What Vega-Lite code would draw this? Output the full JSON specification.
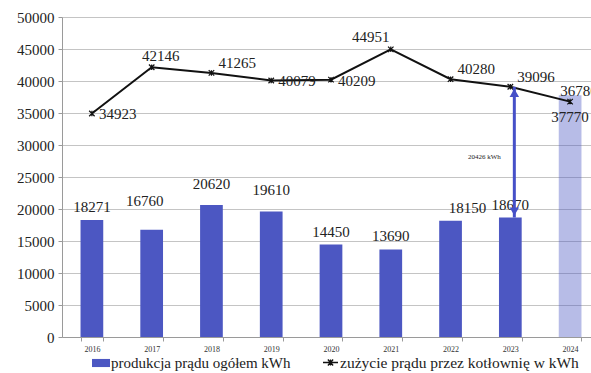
{
  "$schema": "https://vega.github.io/schema/vega-lite/v6.json",
  "autosize": {"type": "none"},
  "width": 528,
  "height": 320,
  "padding": {"left": 62, "top": 17, "right": 1, "bottom": 36},
  "background": "#ffffff",
  "datasets": {
    "energia": [
      {"rok": "2016", "produkcja": 18271, "zuzycie": 34923},
      {"rok": "2017", "produkcja": 16760, "zuzycie": 42146},
      {"rok": "2018", "produkcja": 20620, "zuzycie": 41265},
      {"rok": "2019", "produkcja": 19610, "zuzycie": 40079},
      {"rok": "2020", "produkcja": 14450, "zuzycie": 40209},
      {"rok": "2021", "produkcja": 13690, "zuzycie": 44951},
      {"rok": "2022", "produkcja": 18150, "zuzycie": 40280},
      {"rok": "2023", "produkcja": 18670, "zuzycie": 39096},
      {"rok": "2024", "produkcja": 37770, "zuzycie": 36780}
    ],
    "roznica": [
      {"rok": "2023", "od": 18670, "do": 39096, "opis": "20426 kWh", "poziom": 28100}
    ]
  },
  "data": {"name": "energia"},
  "encoding": {
    "x": {
      "field": "rok",
      "type": "ordinal",
      "scale": {"range": [0, 538], "paddingInner": 0.62, "paddingOuter": 0.31},
      "axis": {
        "title": null,
        "labelAngle": 0,
        "labelFont": "Liberation Serif, DejaVu Serif, serif",
        "labelFontSize": 8,
        "labelColor": "#333",
        "labelPadding": 4,
        "tickBand": "extent",
        "tickSize": 4,
        "tickColor": "#9a9a9a",
        "domainColor": "#9a9a9a",
        "grid": false
      }
    }
  },
  "layer": [
    {
      "mark": {"type": "bar"},
      "encoding": {
        "y": {
          "field": "produkcja",
          "type": "quantitative",
          "scale": {"domain": [0, 50000], "nice": false},
          "axis": {"title": null, "format": "d", "tickCount": 10}
        },
        "fill": {
          "datum": "produkcja prądu ogółem kWh",
          "type": "nominal",
          "scale": {"range": ["#4c57c2"]},
          "legend": {
            "title": null,
            "orient": "none",
            "legendX": 30,
            "legendY": 337,
            "symbolType": "M-1,-0.45H1V0.45H-1Z",
            "symbolSize": 324,
            "symbolStrokeWidth": 0,
            "labelFont": "Liberation Serif, DejaVu Serif, serif",
            "labelFontSize": 15,
            "labelColor": "#222",
            "labelLimit": 400,
            "labelOffset": 1
          }
        },
        "fillOpacity": {
          "condition": {"test": "datum.rok === '2024'", "value": 0.4},
          "value": 1
        }
      }
    },
    {
      "mark": {"type": "line", "color": "#111", "strokeWidth": 2},
      "encoding": {
        "y": {"field": "zuzycie", "type": "quantitative"},
        "stroke": {
          "datum": "zużycie prądu przez kotłownię w kWh",
          "type": "nominal",
          "scale": {"range": ["#111111"]},
          "legend": {
            "title": null,
            "orient": "none",
            "legendX": 260,
            "legendY": 337,
            "symbolType": "M-1,0H1M-0.35,-0.4L0.35,0.4M-0.35,0.4L0.35,-0.4M0,-0.4V0.4",
            "symbolSize": 225,
            "symbolStrokeWidth": 1.3,
            "labelFont": "Liberation Serif, DejaVu Serif, serif",
            "labelFontSize": 15.5,
            "labelColor": "#222",
            "labelLimit": 400,
            "labelOffset": 1
          }
        }
      }
    },
    {
      "mark": {
        "type": "point",
        "shape": "M-1,-1L1,1M-1,1L1,-1M0,-1V1",
        "filled": false,
        "stroke": "#111",
        "strokeWidth": 1.2,
        "size": 30,
        "opacity": 1
      },
      "encoding": {"y": {"field": "zuzycie", "type": "quantitative"}}
    },
    {
      "transform": [{"filter": {"field": "rok", "oneOf": ["2016", "2020", "2021", "2023"]}}],
      "mark": {"type": "text", "font": "Liberation Serif, DejaVu Serif, serif", "fontSize": 15, "color": "#222", "baseline": "middle", "dy": -13},
      "encoding": {"y": {"field": "produkcja", "type": "quantitative"}, "text": {"field": "produkcja", "type": "quantitative", "format": "d"}}
    },
    {
      "transform": [{"filter": {"field": "rok", "equal": "2017"}}],
      "mark": {"type": "text", "font": "Liberation Serif, DejaVu Serif, serif", "fontSize": 15, "color": "#222", "baseline": "middle", "dx": -7, "dy": -29},
      "encoding": {"y": {"field": "produkcja", "type": "quantitative"}, "text": {"field": "produkcja", "type": "quantitative", "format": "d"}}
    },
    {
      "transform": [{"filter": {"field": "rok", "oneOf": ["2018", "2019"]}}],
      "mark": {"type": "text", "font": "Liberation Serif, DejaVu Serif, serif", "fontSize": 15, "color": "#222", "baseline": "middle", "dy": -21},
      "encoding": {"y": {"field": "produkcja", "type": "quantitative"}, "text": {"field": "produkcja", "type": "quantitative", "format": "d"}}
    },
    {
      "transform": [{"filter": {"field": "rok", "equal": "2022"}}],
      "mark": {"type": "text", "font": "Liberation Serif, DejaVu Serif, serif", "fontSize": 15, "color": "#222", "baseline": "middle", "dx": 17, "dy": -13},
      "encoding": {"y": {"field": "produkcja", "type": "quantitative"}, "text": {"field": "produkcja", "type": "quantitative", "format": "d"}}
    },
    {
      "transform": [{"filter": {"field": "rok", "equal": "2024"}}],
      "mark": {"type": "text", "font": "Liberation Serif, DejaVu Serif, serif", "fontSize": 15, "color": "#222", "baseline": "middle", "dy": 22},
      "encoding": {"y": {"field": "produkcja", "type": "quantitative"}, "text": {"field": "produkcja", "type": "quantitative", "format": "d"}}
    },
    {
      "transform": [{"filter": {"field": "rok", "oneOf": ["2016", "2019", "2020"]}}],
      "mark": {"type": "text", "font": "Liberation Serif, DejaVu Serif, serif", "fontSize": 15, "color": "#222", "baseline": "middle", "align": "left", "dx": 7, "dy": 1},
      "encoding": {"y": {"field": "zuzycie", "type": "quantitative"}, "text": {"field": "zuzycie", "type": "quantitative", "format": "d"}}
    },
    {
      "transform": [{"filter": {"field": "rok", "oneOf": ["2018", "2022", "2023"]}}],
      "mark": {"type": "text", "font": "Liberation Serif, DejaVu Serif, serif", "fontSize": 15, "color": "#222", "baseline": "middle", "align": "left", "dx": 7, "dy": -10},
      "encoding": {"y": {"field": "zuzycie", "type": "quantitative"}, "text": {"field": "zuzycie", "type": "quantitative", "format": "d"}}
    },
    {
      "transform": [{"filter": {"field": "rok", "oneOf": ["2017", "2024"]}}],
      "mark": {"type": "text", "font": "Liberation Serif, DejaVu Serif, serif", "fontSize": 15, "color": "#222", "baseline": "middle", "align": "center", "dx": 9, "dy": -11},
      "encoding": {"y": {"field": "zuzycie", "type": "quantitative"}, "text": {"field": "zuzycie", "type": "quantitative", "format": "d"}}
    },
    {
      "transform": [{"filter": {"field": "rok", "equal": "2021"}}],
      "mark": {"type": "text", "font": "Liberation Serif, DejaVu Serif, serif", "fontSize": 15, "color": "#222", "baseline": "middle", "align": "center", "dx": -20, "dy": -12},
      "encoding": {"y": {"field": "zuzycie", "type": "quantitative"}, "text": {"field": "zuzycie", "type": "quantitative", "format": "d"}}
    },
    {
      "data": {"name": "roznica"},
      "mark": {"type": "rule", "color": "#4650c8", "strokeWidth": 3, "xOffset": 4},
      "encoding": {
        "y": {"field": "od", "type": "quantitative"},
        "y2": {"field": "do"}
      }
    },
    {
      "data": {"name": "roznica"},
      "mark": {"type": "point", "shape": "triangle-up", "filled": true, "color": "#4650c8", "size": 90, "opacity": 1, "xOffset": 4, "yOffset": 6},
      "encoding": {"y": {"field": "do", "type": "quantitative"}}
    },
    {
      "data": {"name": "roznica"},
      "mark": {"type": "point", "shape": "triangle-down", "filled": true, "color": "#4650c8", "size": 90, "opacity": 1, "xOffset": 4, "yOffset": -6},
      "encoding": {"y": {"field": "od", "type": "quantitative"}}
    },
    {
      "data": {"name": "roznica"},
      "mark": {"type": "text", "font": "Liberation Serif, DejaVu Serif, serif", "fontSize": 7, "color": "#222", "baseline": "middle", "align": "center", "dx": -26},
      "encoding": {
        "y": {"field": "poziom", "type": "quantitative"},
        "text": {"field": "opis", "type": "nominal"}
      }
    }
  ],
  "config": {
    "view": {"stroke": null},
    "axisY": {
      "title": null,
      "format": "d",
      "tickCount": 10,
      "labelOverlap": false,
      "labelFont": "Liberation Serif, DejaVu Serif, serif",
      "labelFontSize": 15,
      "labelColor": "#222",
      "labelPadding": 4,
      "tickSize": 4,
      "tickColor": "#9a9a9a",
      "domainColor": "#9a9a9a",
      "gridColor": "#c4c4c4",
      "gridWidth": 1
    }
  }
}
